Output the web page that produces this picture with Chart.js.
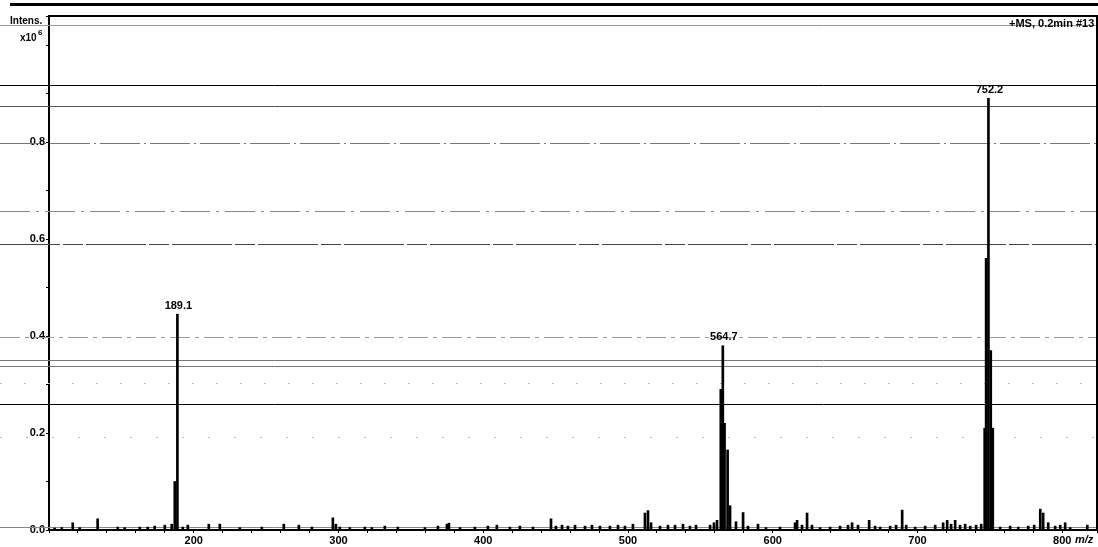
<!DOCTYPE html>
<html>
<head>
<meta charset="utf-8">
<script src="https://cdn.jsdelivr.net/npm/chart.js@4.4.1/dist/chart.umd.min.js"></script>
<style>
  html, body { margin: 0; padding: 0; background: #fff; }
  #wrap { width: 1098px; height: 547px; }
</style>
</head>
<body>
<div id="wrap"><canvas id="msChart" width="1098" height="547"></canvas></div>
<script>
// m/z of each stick and its intensity (x10^6)
const mzValues = [
  103.9, 108.8, 116.4, 121.2, 133.6, 147.5, 152.3, 162.7, 168.2, 173.0,
  180.0, 184.8, 186.9, 188.7, 192.4, 195.9, 210.4, 218.0, 231.8, 247.0,
  262.2, 272.6, 281.6, 296.1, 298.2, 300.9, 307.8, 318.2, 323.0, 332.0,
  341.0, 359.7, 368.7, 374.9, 376.3, 383.9, 394.2, 403.2, 409.4, 418.4,
  425.3, 434.3, 446.8, 450.2, 454.4, 458.5, 463.4, 470.3, 475.1, 480.6,
  487.5, 493.1, 497.9, 503.4, 511.7, 513.8, 515.9, 522.1, 527.6, 532.5,
  538.0, 542.8, 547.0, 556.7, 559.4, 561.5, 564.1, 565.5, 566.7, 568.8,
  570.5, 574.6, 579.5, 582.9, 589.8, 595.3, 605.0, 615.4, 616.8, 620.2,
  623.7, 627.1, 632.7, 639.6, 646.5, 652.0, 654.8, 658.9, 666.6, 670.7,
  674.2, 681.1, 685.2, 689.4, 692.2, 698.4, 705.3, 712.2, 717.7, 720.5,
  723.2, 726.0, 729.4, 732.9, 736.4, 740.5, 744.0, 746.4, 747.4, 749.0,
  750.6, 752.0, 757.1, 764.0, 769.6, 776.5, 780.6, 784.8, 786.8, 790.3,
  795.1, 798.6, 802.0, 805.5, 817.3
];
const intensities = [
  0.004, 0.005, 0.015, 0.005, 0.023, 0.006, 0.005, 0.006, 0.006, 0.008,
  0.010, 0.012, 0.100, 0.445, 0.006, 0.010, 0.012, 0.012, 0.005, 0.006,
  0.012, 0.010, 0.006, 0.025, 0.012, 0.006, 0.005, 0.006, 0.005, 0.008,
  0.006, 0.005, 0.008, 0.012, 0.014, 0.005, 0.006, 0.008, 0.010, 0.006,
  0.008, 0.006, 0.023, 0.008, 0.010, 0.008, 0.010, 0.008, 0.010, 0.008,
  0.008, 0.010, 0.008, 0.012, 0.035, 0.040, 0.015, 0.008, 0.010, 0.010,
  0.012, 0.008, 0.010, 0.010, 0.015, 0.020, 0.290, 0.380, 0.220, 0.165,
  0.050, 0.017, 0.036, 0.008, 0.012, 0.005, 0.006, 0.015, 0.020, 0.010,
  0.035, 0.010, 0.005, 0.006, 0.008, 0.010, 0.015, 0.010, 0.020, 0.008,
  0.006, 0.008, 0.010, 0.041, 0.010, 0.006, 0.008, 0.010, 0.015, 0.020,
  0.012, 0.020, 0.010, 0.012, 0.008, 0.010, 0.012, 0.210, 0.560, 0.890,
  0.370, 0.210, 0.006, 0.008, 0.006, 0.008, 0.010, 0.043, 0.035, 0.015,
  0.008, 0.010, 0.015, 0.005, 0.010
];

// labelled peaks
const labelMz = [188.7, 565.5, 749.0];
const labelText = ["189.1", "564.7", "752.2"];

// axis labels
const xTickLabels = [200, 300, 400, 500, 600, 700, 800];
const yTickLabels = [0.0, 0.2, 0.4, 0.6, 0.8];

// horizontal streaks left by the scanner, in intensity units
const scanLevels = [1.085, 1.041, 0.918, 0.874, 0.798, 0.658, 0.590, 0.398, 0.350, 0.338, 0.303, 0.260, 0.192, 0.006];
const scanStyles = [
  { color: '#000', width: 3, dash: [] },
  { color: '#999', width: 1, dash: [] },
  { color: '#000', width: 1, dash: [] },
  { color: '#555', width: 1, dash: [] },
  { color: '#777', width: 1, dash: [40, 4, 2, 4] },
  { color: '#888', width: 1, dash: [30, 6, 3, 6] },
  { color: '#444', width: 1, dash: [60, 3, 20, 3] },
  { color: '#999', width: 1, dash: [20, 5, 4, 5] },
  { color: '#777', width: 1, dash: [] },
  { color: '#777', width: 1, dash: [] },
  { color: '#bbb', width: 1, dash: [2, 22] },
  { color: '#000', width: 1, dash: [] },
  { color: '#bbb', width: 1, dash: [2, 24] },
  { color: '#888', width: 1, dash: [] }
];

const font = 'bold 11px "Liberation Sans", Arial, sans-serif';

const scanLinePlugin = {
  id: 'scanLines',
  beforeDatasetsDraw(chart) {
    const ctx = chart.ctx;
    const y = chart.scales.y;
    ctx.save();
    scanLevels.forEach((lvl, i) => {
      const st = scanStyles[i];
      const py = Math.round(y.getPixelForValue(lvl)) + 0.5;
      ctx.strokeStyle = st.color;
      ctx.lineWidth = st.width;
      ctx.setLineDash(st.dash);
      ctx.beginPath();
      ctx.moveTo(i === 0 ? 10 : 0, py);
      ctx.lineTo(chart.width, py);
      ctx.stroke();
    });
    ctx.restore();
  }
};

const decorPlugin = {
  id: 'decor',
  afterDraw(chart) {
    const ctx = chart.ctx;
    const a = chart.chartArea;
    const x = chart.scales.x, y = chart.scales.y;
    ctx.save();
    // frame top and right
    ctx.strokeStyle = '#000';
    ctx.lineWidth = 2;
    ctx.beginPath();
    ctx.moveTo(a.left, a.top);
    ctx.lineTo(a.right, a.top);
    ctx.lineTo(a.right, a.bottom);
    ctx.stroke();

    ctx.fillStyle = '#000';
    ctx.font = font;
    ctx.textAlign = 'center';
    ctx.textBaseline = 'bottom';
    labelMz.forEach((m, i) => {
      const idx = mzValues.indexOf(m);
      const px = x.getPixelForValue(m);
      const py = y.getPixelForValue(intensities[idx]);
      ctx.fillText(labelText[i], px + 1, py - 3);
    });

    ctx.textAlign = 'left';
    ctx.textBaseline = 'middle';
    ctx.font = 'bold 10px "Liberation Sans", Arial, sans-serif';
    ctx.fillText('Intens.', 10, 21);
    ctx.fillText('x10', 20, 38);
    ctx.font = 'bold 8px "Liberation Sans", Arial, sans-serif';
    ctx.fillText('6', 38, 33);
    ctx.font = font;
    ctx.fillText('+MS, 0.2min #13', 1009, 24);
    ctx.font = 'italic bold 11px "Liberation Sans", Arial, sans-serif';
    ctx.fillText('m/z', 1075, 540);
    ctx.restore();
  }
};

const ctx = document.getElementById('msChart');
new Chart(ctx, {
  type: 'bar',
  data: {
    datasets: [{
      data: mzValues.map((m, i) => ({ x: m, y: intensities[i] })),
      backgroundColor: '#000',
      borderWidth: 0,
      barThickness: 2
    }]
  },
  options: {
    responsive: false,
    animation: false,
    layout: { padding: { top: 16, right: 1, left: 0, bottom: 0 } },
    plugins: { legend: { display: false }, tooltip: { enabled: false } },
    scales: {
      x: {
        type: 'linear',
        min: 100,
        max: 824,
        offset: false,
        grid: { offset: false, drawOnChartArea: false, drawTicks: true, tickLength: 3, color: '#000', tickColor: '#000' },
        border: { color: '#000', width: 2 },
        ticks: {
          stepSize: 20, autoSkip: false, maxRotation: 0, padding: 1, color: '#000',
          font: { family: '"Liberation Sans", Arial, sans-serif', weight: 'bold', size: 11 },
          callback: v => xTickLabels.includes(v) ? String(v) : ''
        },
        afterFit: s => { s.height = 17; }
      },
      y: {
        min: 0,
        max: 1.06,
        grid: { drawOnChartArea: false, drawTicks: true, tickLength: 3, color: '#000', tickColor: '#000' },
        border: { color: '#000', width: 2 },
        ticks: {
          stepSize: 0.1, autoSkip: false, padding: 1, color: '#000',
          font: { family: '"Liberation Sans", Arial, sans-serif', weight: 'bold', size: 11 },
          callback: v => {
            const r = Math.round(v * 10) / 10;
            return Math.abs(v - r) < 1e-6 && yTickLabels.includes(r) ? r.toFixed(1) : '';
          }
        },
        afterFit: s => { s.width = 49; }
      }
    }
  },
  plugins: [scanLinePlugin, decorPlugin]
});
</script>
</body>
</html>
